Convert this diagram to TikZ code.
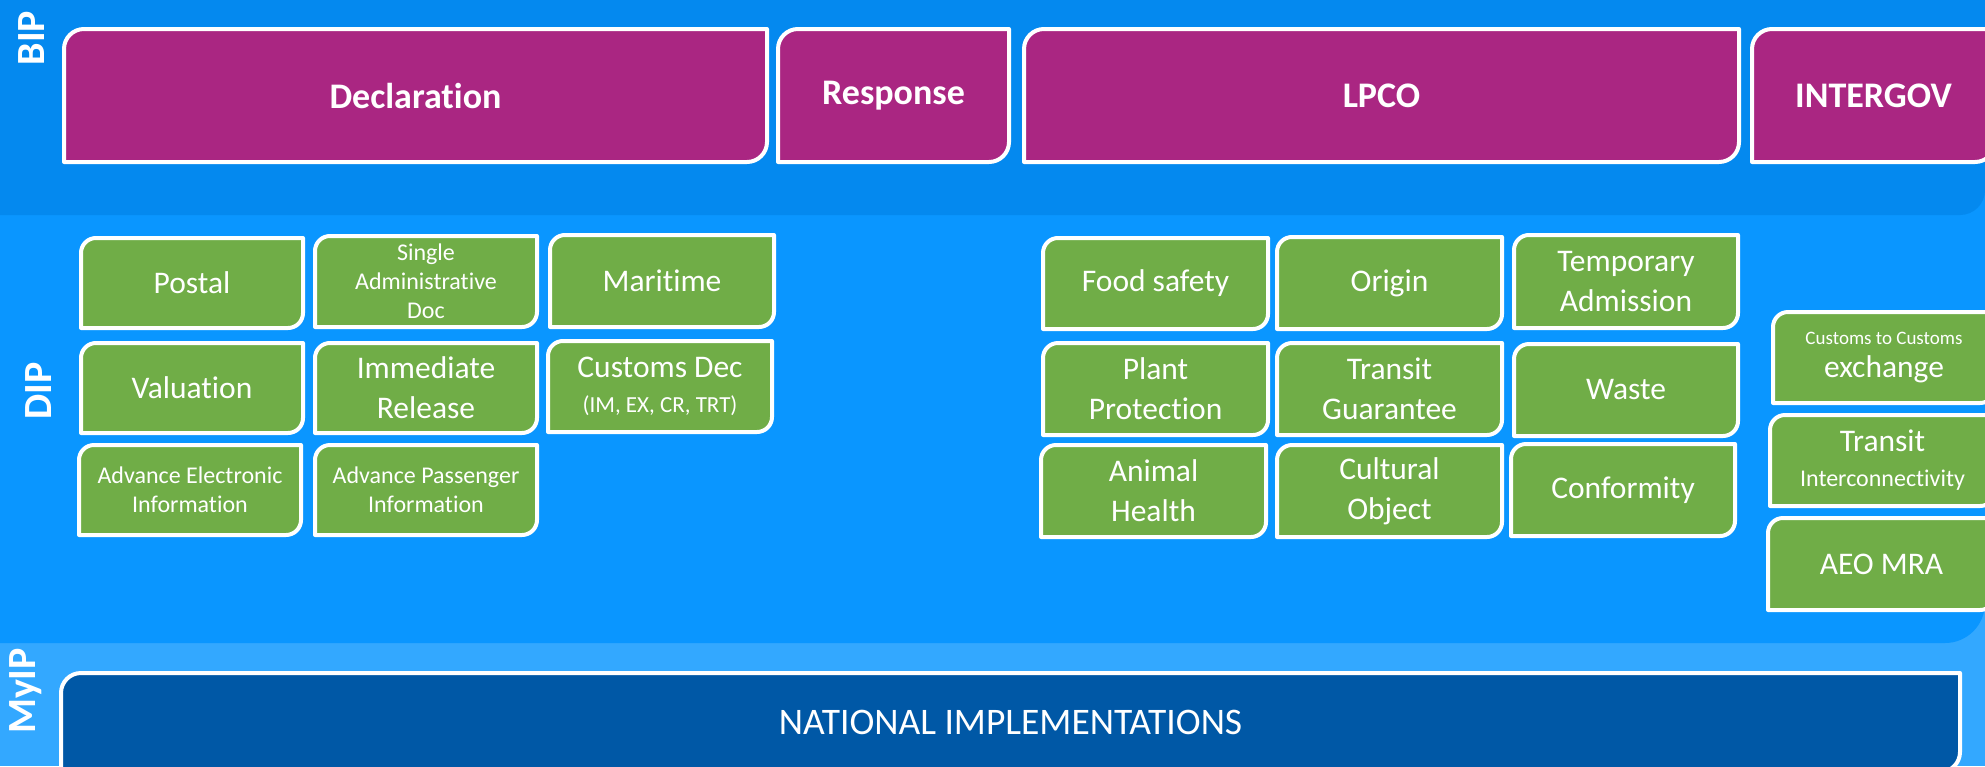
\documentclass[tikz,border=0pt]{standalone}
\usepackage{fontspec}
\setmainfont{Carlito}[Ligatures=NoCommon]
\definecolor{bipc}{RGB}{4,137,239}
\definecolor{dipc}{RGB}{10,150,255}
\definecolor{myipc}{RGB}{51,168,255}
\definecolor{purp}{RGB}{170,38,130}
\definecolor{grn}{RGB}{112,173,71}
\definecolor{natc}{RGB}{0,88,166}
\tikzset{
  boxline/.style={draw=white, line width=4pt, line join=round},
  boxtext/.style={text=white, align=center, inner sep=0pt, font=\fontsize{31.5}{40}\selectfont},
  sidelabel/.style={text=white, rotate=90, inner sep=0pt, font=\bfseries\fontsize{40}{40}\selectfont},
  bigtext/.style={font=\bfseries\fontsize{36}{40}\selectfont},
  smalltext/.style={font=\fontsize{24}{29}\selectfont},
  mixtext/.style={font=\fontsize{31.5}{35}\selectfont},
  plain/.style={}
}
% #1 name, #2 fill, #3 radius, #4 x1, #5 y1, #6 x2, #7 y2, #8 text, #9 extra node options
\newcommand\dbox[9]{%
  \filldraw[boxline, fill=#2] (#4,#7) -- (#4,#5+#3)
    arc[start angle=180,end angle=90,radius=#3pt] -- (#6,#5) -- (#6,#7-#3)
    arc[start angle=0,end angle=-90,radius=#3pt] -- cycle;
  \node[boxtext, #9] (#1) at ({(#4+#6)/2},{(#5+#7)/2}) {#8};}
\begin{document}
\begin{tikzpicture}[x=1pt,y=-1pt]
\useasboundingbox (0,0) rectangle (1985,766);
% bands
\fill[myipc] (0,0) rectangle (1985,766);
\fill[dipc, rounded corners=40pt] (-60,-60) rectangle (1985,643);
\fill[bipc, rounded corners=25pt] (-60,-60) rectangle (1985,215);
% side labels
\node[sidelabel] (bip) at (32,38) {BIP};
\node[sidelabel] (dip) at (39,391) {DIP};
\node[sidelabel] (myip) at (26,691) {MyIP};
% BIP boxes
\dbox{decl}{purp}{20}{64}{29}{767}{162}{Declaration}{bigtext}
\dbox{resp}{purp}{20}{778}{29}{1009}{162}{Response}{bigtext}
\dbox{lpco}{purp}{20}{1024}{29}{1739}{162}{LPCO}{bigtext}
\dbox{intergov}{purp}{20}{1752}{29}{1995}{162}{INTERGOV}{bigtext}
% DIP: declaration group
\dbox{postal}{grn}{15}{81}{238}{303}{328}{Postal}{plain}
\dbox{sad}{grn}{15}{315}{236}{537}{327}{Single\\Administrative\\Doc}{smalltext}
\dbox{maritime}{grn}{15}{550}{235}{774}{327}{Maritime}{plain}
\dbox{valuation}{grn}{15}{81}{343}{303}{433}{Valuation}{plain}
\dbox{immrel}{grn}{15}{315}{343}{537}{433}{Immediate\\Release}{plain}
\dbox{cusdec}{grn}{15}{548}{341}{772}{432}{Customs Dec\\{\fontsize{23}{28}\selectfont (IM, EX, CR, TRT)}}{mixtext}
\dbox{aei}{grn}{15}{79}{445}{301}{535}{Advance Electronic\\Information}{smalltext}
\dbox{api}{grn}{15}{315}{445}{537}{535}{Advance Passenger\\Information}{smalltext}
% DIP: LPCO group
\dbox{food}{grn}{15}{1043}{238}{1268}{329}{Food safety}{plain}
\dbox{origin}{grn}{15}{1277}{237}{1502}{329}{Origin}{plain}
\dbox{tempadm}{grn}{15}{1514}{235}{1738}{328}{Temporary\\Admission}{plain}
\dbox{plant}{grn}{15}{1043}{343}{1268}{435}{Plant\\Protection}{plain}
\dbox{transguar}{grn}{15}{1277}{343}{1502}{435}{Transit\\Guarantee}{plain}
\dbox{waste}{grn}{15}{1514}{344}{1738}{436}{Waste}{plain}
\dbox{animal}{grn}{15}{1041}{445}{1266}{537}{Animal\\Health}{plain}
\dbox{cultural}{grn}{15}{1277}{445}{1502}{537}{Cultural\\Object}{plain}
\dbox{conformity}{grn}{15}{1511}{444}{1735}{536}{Conformity}{plain}
% DIP: intergov group
\dbox{c2c}{grn}{15}{1773}{312}{1995}{403}{{\fontsize{19}{22}\selectfont Customs to Customs}\\exchange}{font=\fontsize{31.5}{33}\selectfont}
\dbox{transint}{grn}{15}{1770}{415}{1995}{506}{Transit\\{\fontsize{24}{28}\selectfont Interconnectivity}}{mixtext}
\dbox{aeo}{grn}{15}{1768}{518}{1995}{610}{AEO MRA}{plain}
% MyIP
\dbox{national}{natc}{20}{61}{673}{1960}{772}{NATIONAL IMPLEMENTATIONS}{font=\fontsize{37.5}{40}\selectfont}
\end{tikzpicture}
\end{document}
